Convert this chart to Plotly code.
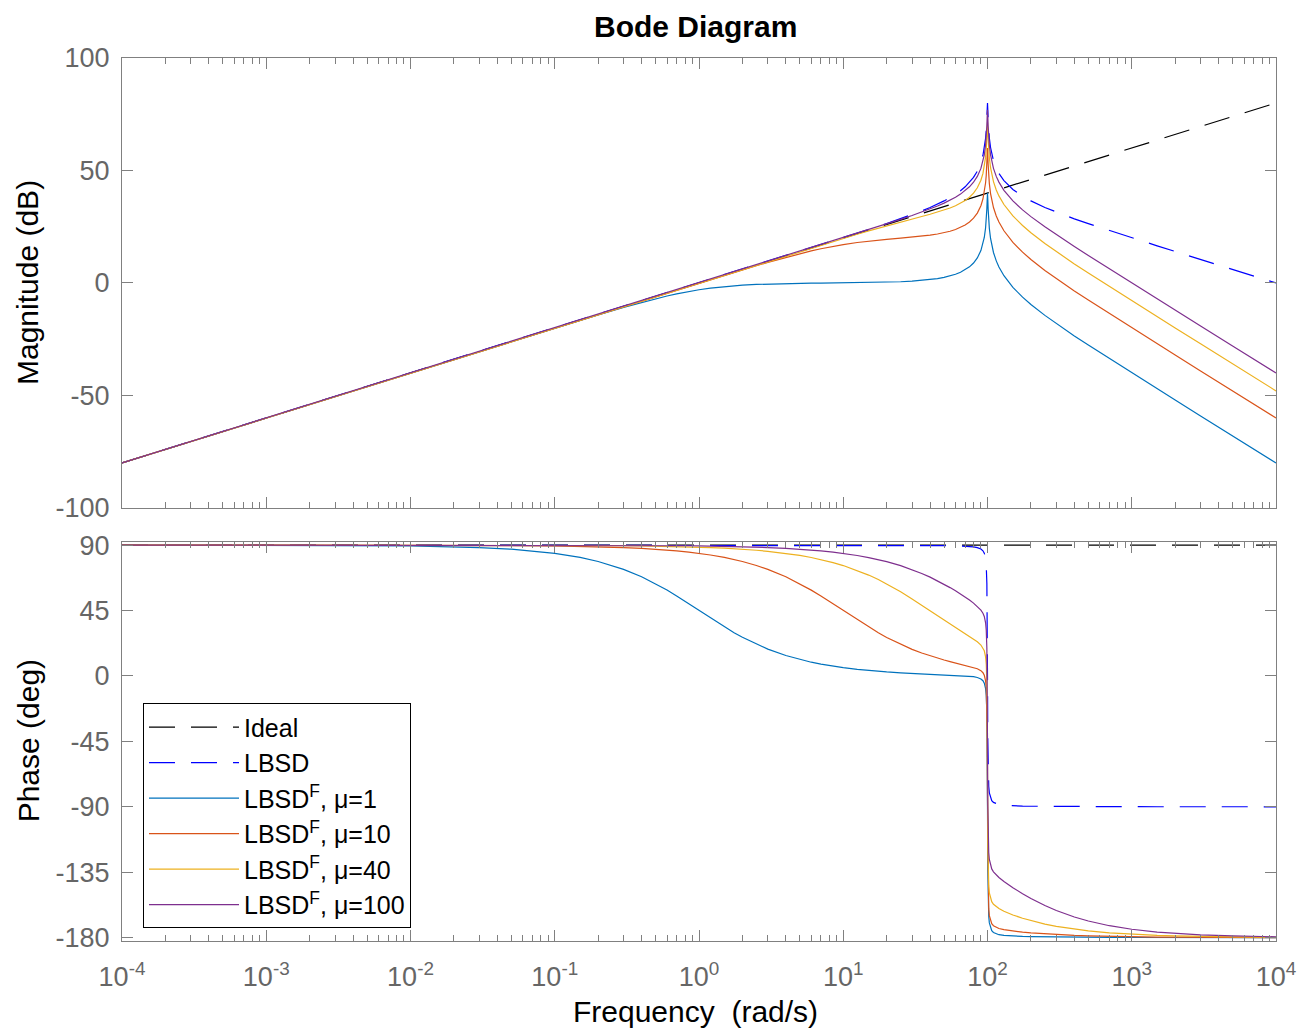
import plotly.graph_objects as go

# ---------------- data ----------------
w = [1e-4, 1e-3, 1e-2, 0.03, 0.05,
     0.1, 0.15, 0.2, 0.3, 0.4,
     0.5, 0.6, 0.7, 0.85, 1,
     1.2, 1.5, 1.75, 2, 2.5,
     3, 4, 5, 6, 7,
     8.5, 10, 12.5, 15, 17.5,
     20, 25, 30, 35, 40,
     45, 50, 55, 60, 65,
     70, 75, 80, 85, 90,
     93, 95, 97, 98, 99,
     99.5, 100, 100.5, 101, 102,
     103, 105, 107, 110, 115,
     120, 130, 140, 150, 175,
     200, 250, 300, 400, 500,
     700, 1000, 1500, 2000, 3000,
     5000, 10000]

ideal_w = [1e-4, 1e-3, 1e-2, 1e-1, 1, 10, 100, 1000, 10000]
ideal_mag = [-80, -60, -40, -20, 0, 20, 40, 60, 80]
ideal_phase = [90, 90, 90, 90, 90, 90, 90, 90, 90]

lbsd_mag = [-80, -60, -40, -30.46, -26.02,
            -20, -16.48, -13.98, -10.46, -7.96,
            -6.02, -4.44, -3.10, -1.41, 0,
            1.58, 3.52, 4.86, 6.02, 7.97,
            9.54, 12.05, 13.98, 15.59, 16.94,
            18.65, 20.09, 22.08, 23.72, 25.13,
            26.37, 28.52, 30.36, 32.02, 33.55,
            35.03, 36.48, 37.94, 39.44, 41.03,
            42.75, 44.68, 46.93, 49.72, 53.51,
            56.76, 59.77, 64.31, 67.61, 72.97,
            76.98, 80.0, 77.0, 73.05, 67.77,
            64.45, 60.21, 57.37, 54.39, 51.04,
            48.71, 45.50, 43.28, 41.58, 38.57,
            36.48, 33.56, 31.48, 28.52, 26.38,
            23.28, 20.09, 16.52, 14.0, 10.47,
            6.02, 0.0]
mu1_mag = [-80, -60, -40, -30.46, -26.03,
           -20.04, -16.58, -14.15, -10.83, -8.60,
           -6.99, -5.77, -4.83, -3.77, -3.01,
           -2.29, -1.60, -1.23, -0.97, -0.64,
           -0.46, -0.25, -0.17, -0.09, -0.05,
           0.0, 0.05, 0.11, 0.18, 0.26,
           0.34, 0.55, 0.81, 1.13, 1.51,
           1.96, 2.50, 3.13, 3.88, 4.77,
           5.85, 7.18, 8.87, 11.13, 14.42,
           17.39, 20.22, 24.57, 27.79, 33.06,
           37.02, 40.0, 36.96, 32.96, 27.60,
           24.19, 19.79, 16.78, 13.56, 9.83,
           7.13, 3.22, 0.35, -1.94, -6.29,
           -9.54, -14.40, -18.06, -23.52, -27.60,
           -33.62, -39.91, -47.00, -52.02, -59.07,
           -67.96, -80.0]
mu10_mag = [-80, -60, -40, -30.46, -26.02,
            -20.0, -16.48, -13.98, -10.46, -7.97,
            -6.03, -4.45, -3.12, -1.44, -0.04,
            1.52, 3.42, 4.73, 5.85, 7.70,
            9.17, 11.41, 13.01, 14.26, 15.21,
            16.29, 17.08, 17.99, 18.60, 19.04,
            19.38, 19.92, 20.36, 20.80, 21.25,
            21.76, 22.33, 22.99, 23.76, 24.67,
            25.76, 27.10, 28.80, 31.07, 34.37,
            37.34, 40.17, 44.53, 47.74, 53.01,
            56.98, 59.96, 56.91, 52.92, 47.55,
            44.15, 39.75, 36.74, 33.53, 29.79,
            27.10, 23.20, 20.34, 18.04, 13.70,
            10.45, 5.59, 1.93, -3.52, -7.60,
            -13.62, -19.91, -27.00, -32.02, -39.07,
            -47.96, -60.0]
mu40_mag = [-80, -60, -40, -30.46, -26.02,
            -20, -16.48, -13.98, -10.46, -7.96,
            -6.02, -4.44, -3.10, -1.41, 0.0,
            1.58, 3.51, 4.85, 6.01, 7.95,
            9.52, 12.01, 13.91, 15.49, 16.81,
            18.46, 19.83, 21.67, 23.15, 24.37,
            25.40, 27.09, 28.42, 29.55, 30.54,
            31.47, 32.39, 33.33, 34.32, 35.42,
            36.66, 38.13, 39.94, 42.30, 45.68,
            48.69, 51.55, 55.93, 59.16, 64.44,
            68.41, 71.40, 68.36, 64.37, 59.02,
            55.62, 51.24, 48.26, 45.06, 41.37,
            38.71, 34.87, 32.06, 29.80, 25.53,
            22.33, 17.53, 13.90, 8.48, 4.42,
            -1.59, -7.88, -14.96, -19.98, -27.03,
            -35.92, -47.96]
mu100_mag = [-80, -60, -40, -30.46, -26.02,
             -20, -16.48, -13.98, -10.46, -7.96,
             -6.02, -4.44, -3.10, -1.41, 0,
             1.58, 3.52, 4.86, 6.02, 7.96,
             9.54, 12.05, 13.97, 15.58, 16.92,
             18.62, 20.05, 22.01, 23.62, 25.00,
             26.20, 28.26, 29.99, 31.52, 32.91,
             34.22, 35.51, 36.79, 38.11, 39.50,
             41.02, 42.74, 44.78, 47.36, 50.93,
             54.05, 56.98, 61.43, 64.69, 70.00,
             73.99, 76.99, 73.97, 70.00, 64.67,
             61.31, 56.98, 54.06, 50.95, 47.38,
             44.84, 41.20, 38.57, 36.46, 32.48,
             29.49, 24.96, 21.48, 16.22, 12.23,
             6.29, 0.05, -7.02, -12.03, -19.08,
             -27.96, -40.0]

lbsd_phase = [90, 90, 90, 90, 90,
              90, 90, 90, 90, 90,
              90, 90, 90, 90, 90,
              90, 90, 90, 90, 89.99,
              89.98, 89.98, 89.97, 89.97, 89.96,
              89.95, 89.94, 89.93, 89.91, 89.90,
              89.88, 89.85, 89.81, 89.77, 89.73,
              89.68, 89.62, 89.55, 89.46, 89.36,
              89.21, 89.02, 88.73, 88.25, 87.29,
              86.06, 84.43, 80.68, 76.10, 63.55,
              45.07, 0.0, -44.93, -63.32, -75.83,
              -80.40, -84.15, -85.78, -87.0, -87.96,
              -88.44, -88.92, -89.16, -89.31, -89.51,
              -89.62, -89.73, -89.79, -89.85, -89.88,
              -89.92, -89.94, -89.96, -89.97, -89.98,
              -89.99, -90.0]
mu1_phase = [89.99, 89.94, 89.43, 88.28, 87.14,
             84.29, 81.47, 78.69, 73.30, 68.20,
             63.43, 59.04, 55.01, 49.64, 45.0,
             39.81, 33.69, 29.74, 26.57, 21.79,
             18.42, 14.02, 11.28, 9.43, 8.09,
             6.66, 5.65, 4.50, 3.72, 3.17,
             2.74, 2.14, 1.72, 1.41, 1.16,
             0.95, 0.77, 0.59, 0.41, 0.24,
             0.03, -0.22, -0.55, -1.08, -2.07,
             -3.32, -4.97, -8.73, -13.32, -25.87,
             -44.35, -89.43, -134.36, -152.75, -165.27,
             -169.84, -173.60, -175.24, -176.48, -177.46,
             -177.96, -178.48, -178.75, -178.93, -179.18,
             -179.33, -179.50, -179.60, -179.71, -179.77,
             -179.84, -179.88, -179.92, -179.94, -179.96,
             -179.98, -179.99]
mu10_phase = [90.0, 89.99, 89.94, 89.83, 89.71,
              89.43, 89.14, 88.85, 88.28, 87.71,
              87.14, 86.57, 86.0, 85.14, 84.29,
              83.16, 81.47, 80.07, 78.69, 75.95,
              73.28, 68.18, 63.41, 59.01, 54.97,
              49.59, 44.94, 38.59, 33.60, 29.64,
              26.45, 21.65, 18.24, 15.72, 13.77,
              12.21, 10.93, 9.85, 8.92, 8.11,
              7.34, 6.61, 5.86, 4.96, 3.63,
              2.20, 0.44, -3.43, -8.07, -20.68,
              -39.19, -84.29, -129.25, -147.67, -160.23,
              -164.85, -168.71, -170.44, -171.81, -172.99,
              -173.68, -174.52, -175.07, -175.50, -176.24,
              -176.76, -177.44, -177.88, -178.42, -178.73,
              -179.10, -179.37, -179.58, -179.68, -179.79,
              -179.87, -179.94]
mu40_phase = [90, 90, 89.99, 89.96, 89.93,
              89.86, 89.79, 89.71, 89.57, 89.43,
              89.28, 89.14, 89.0, 88.78, 88.57,
              88.28, 87.85, 87.49, 87.14, 86.41,
              85.69, 84.27, 82.84, 81.44, 80.03,
              77.95, 75.90, 72.58, 69.35, 66.27,
              63.31, 57.84, 52.94, 48.58, 44.73,
              41.31, 38.28, 35.58, 33.15, 30.97,
              28.95, 27.09, 25.30, 23.45, 21.25,
              19.33, 17.26, 13.09, 8.30, -4.45,
              -23.03, -68.20, -113.23, -131.71, -144.42,
              -149.18, -153.30, -155.28, -157.02, -158.78,
              -160.01, -161.82, -163.21, -164.38, -166.63,
              -168.31, -170.64, -172.20, -174.14, -175.31,
              -176.65, -177.65, -178.43, -178.82, -179.22,
              -179.52, -179.76]
mu100_phase = [90, 90, 89.99, 89.98, 89.97,
               89.94, 89.91, 89.89, 89.83, 89.77,
               89.71, 89.66, 89.60, 89.51, 89.43,
               89.31, 89.14, 89.0, 88.85, 88.56,
               88.28, 87.69, 87.11, 86.54, 85.96,
               85.09, 84.23, 82.80, 81.38, 79.97,
               78.57, 75.81, 73.11, 70.48, 67.93,
               65.45, 63.05, 60.74, 58.50, 56.34,
               54.22, 52.15, 50.07, 47.89, 45.30,
               43.14, 40.90, 36.55, 31.68, 18.84,
               0.21, -45.0, -90.07, -108.60, -121.40,
               -126.25, -130.55, -132.72, -134.73, -136.95,
               -138.63, -141.35, -143.62, -145.62, -149.77,
               -153.05, -157.93, -161.36, -165.81, -168.57,
               -171.79, -174.23, -176.15, -177.11, -178.07,
               -178.84, -179.43]

series_names = ["Ideal", "LBSD", "LBSD<sup>F</sup>, \u03bc=1", "LBSD<sup>F</sup>, \u03bc=10",
                "LBSD<sup>F</sup>, \u03bc=40", "LBSD<sup>F</sup>, \u03bc=100"]
x_tick_vals = [1e-4, 1e-3, 1e-2, 1e-1, 1, 10, 100, 1000, 10000]
x_tick_text = ["10<sup>-4</sup>", "10<sup>-3</sup>", "10<sup>-2</sup>", "10<sup>-1</sup>",
               "10<sup>0</sup>", "10<sup>1</sup>", "10<sup>2</sup>", "10<sup>3</sup>",
               "10<sup>4</sup>"]
mag_ticks = [-100, -50, 0, 50, 100]
mag_tick_text = ["-100", "-50", "0", "50", "100"]
phase_ticks = [-180, -135, -90, -45, 0, 45, 90]
phase_tick_text = ["-180", "-135", "-90", "-45", "0", "45", "90"]

# ---------------- styles ----------------
colors = ["#000000", "#0000FF", "#0072BD", "#D95319", "#EDB120", "#7E2F8E"]
dashes = ["26px,16px", "26px,16px", "solid", "solid", "solid", "solid"]
xs = [ideal_w, w, w, w, w, w]
mags = [ideal_mag, lbsd_mag, mu1_mag, mu10_mag, mu40_mag, mu100_mag]
phases = [ideal_phase, lbsd_phase, mu1_phase, mu10_phase, mu40_phase, mu100_phase]

FONT = "Liberation Sans, Arial, Helvetica, sans-serif"
AX = "#808080"
TXT = "#666666"

fig = go.Figure()
for i in range(6):
    fig.add_trace(go.Scatter(x=xs[i], y=mags[i], mode="lines", name=series_names[i],
                             legendgroup=str(i), showlegend=True,
                             line=dict(color=colors[i], width=1.2, dash=dashes[i]),
                             xaxis="x", yaxis="y"))
for i in range(6):
    fig.add_trace(go.Scatter(x=xs[i], y=phases[i], mode="lines", name=series_names[i],
                             legendgroup=str(i), showlegend=False,
                             line=dict(color=colors[i], width=1.2, dash=dashes[i]),
                             xaxis="x2", yaxis="y2"))

minor_vals = [m * 10 ** e for e in range(-4, 4) for m in range(2, 10)]

common_x = dict(type="log", range=[-4, 4], tickvals=x_tick_vals, ticktext=x_tick_text,
                ticks="inside", ticklen=11, tickcolor=AX, tickwidth=1,
                showline=True, linecolor=AX, linewidth=1, mirror="ticks",
                showgrid=False, zeroline=False,
                minor=dict(tickvals=minor_vals, ticks="inside", ticklen=6,
                           tickcolor=AX, tickwidth=1, showgrid=False),
                tickfont=dict(family=FONT, size=27, color=TXT))
common_y = dict(ticks="inside", ticklen=11, tickcolor=AX, tickwidth=1,
                showline=True, linecolor=AX, linewidth=1, mirror="ticks",
                showgrid=False, zeroline=False, ticklabelstandoff=6,
                tickfont=dict(family=FONT, size=27, color=TXT))

fig.update_layout(
    width=1309, height=1029,
    paper_bgcolor="white", plot_bgcolor="white",
    margin=dict(l=114, r=41, t=50, b=96),
    font=dict(family=FONT, color="black"),
    xaxis=dict(common_x, anchor="y", showticklabels=False, domain=[0, 1]),
    xaxis2=dict(common_x, anchor="y2", matches="x", domain=[0, 1], ticklabelstandoff=12),
    yaxis=dict(common_y, domain=[0.4904, 1.0], range=[-100, 100],
               tickvals=mag_ticks, ticktext=mag_tick_text),
    yaxis2=dict(common_y, domain=[0.0, 0.4522], range=[-182.3, 92.3],
                tickvals=phase_ticks, ticktext=phase_tick_text),
    legend=dict(x=0.0182, y=0.269, xanchor="left", yanchor="top",
                bgcolor="white", bordercolor="black", borderwidth=1,
                font=dict(family=FONT, size=25, color="black"),
                itemwidth=90, tracegroupgap=0),
    showlegend=True,
    annotations=[
        dict(text="<b>Bode Diagram</b>", xref="paper", yref="paper", x=0.5, y=1,
             xanchor="center", yanchor="middle", yshift=32, xshift=-4, showarrow=False,
             font=dict(family=FONT, size=30, color="black")),
        dict(text="Magnitude (dB)", xref="paper", yref="paper", x=0, y=0.7452,
             xanchor="center", yanchor="middle", xshift=-94, textangle=-90,
             showarrow=False, font=dict(family=FONT, size=30, color="black")),
        dict(text="Phase (deg)", xref="paper", yref="paper", x=0, y=0.2261,
             xanchor="center", yanchor="middle", xshift=-94, textangle=-90,
             showarrow=False, font=dict(family=FONT, size=30, color="black")),
        dict(text="Frequency  (rad/s)", xref="paper", yref="paper", x=0.5, y=0,
             xanchor="center", yanchor="middle", yshift=-70, xshift=-4,
             showarrow=False, font=dict(family=FONT, size=30, color="black")),
    ],
)

fig.write_html("out.html")
